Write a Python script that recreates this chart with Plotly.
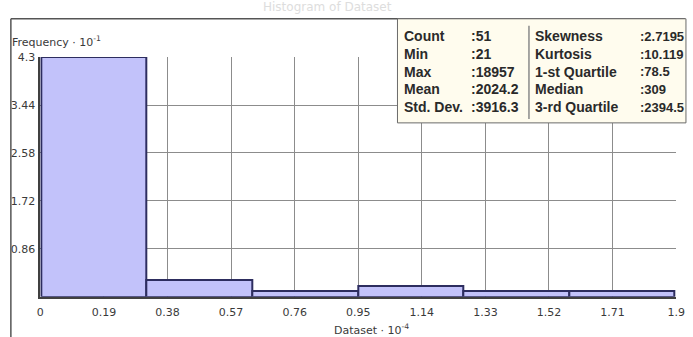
import plotly.graph_objects as go

# ---- data ----
bin_edges = [0.0021, 0.3177, 0.6333, 0.9489, 1.2645, 1.5801, 1.8957]   # Dataset · 10^-4
frequency = [4.3, 0.3, 0.1, 0.2, 0.1, 0.1]                          # Frequency · 10^-1
x_ticks = [0, 0.19, 0.38, 0.57, 0.76, 0.95, 1.14, 1.33, 1.52, 1.71, 1.9]
x_tick_labels = ["0", "0.19", "0.38", "0.57", "0.76", "0.95", "1.14", "1.33", "1.52", "1.71", "1.9"]
y_ticks = [0.86, 1.72, 2.58, 3.44, 4.3]
y_tick_labels = ["0.86", "1.72", "2.58", "3.44", "4.3"]
stats_left = [("Count", ":51"), ("Min", ":21"), ("Max", ":18957"), ("Mean", ":2024.2"), ("Std. Dev.", ":3916.3")]
stats_right = [("Skewness", ":2.7195"), ("Kurtosis", ":10.119"), ("1-st Quartile", ":78.5"),
               ("Median", ":309"), ("3-rd Quartile", ":2394.5")]

W, H = 693, 337
def px(x):
    return x / W
def py(y):
    return 1 - y / H

centers = [(a + b) / 2 for a, b in zip(bin_edges[:-1], bin_edges[1:])]
widths = [b - a for a, b in zip(bin_edges[:-1], bin_edges[1:])]

fig = go.Figure()
fig.add_trace(go.Bar(
    x=centers, y=frequency, width=widths,
    marker=dict(color="rgb(194,194,250)", line=dict(color="rgb(45,45,95)", width=2)),
    hoverinfo="skip",
))

tick_font = dict(family="DejaVu Sans", size=11, color="#3a3a3a")
grid_col = "#8c8c8c"

fig.update_layout(
    width=W, height=H,
    margin=dict(l=0, r=0, t=0, b=0),
    paper_bgcolor="white", plot_bgcolor="white",
    showlegend=False, bargap=0,
    xaxis=dict(domain=[px(37), px(685)], range=[0, 1.9], tickvals=x_ticks, ticktext=x_tick_labels,
               showgrid=True, gridcolor=grid_col, gridwidth=1, zeroline=False,
               showline=True, linecolor="#404040", linewidth=1.5,
               ticks="", ticklabelstandoff=4, ticklabeloverflow="allow",
               tickfont=tick_font, fixedrange=True),
    yaxis=dict(domain=[py(296), py(52)], range=[0, 4.3], tickvals=y_ticks, ticktext=y_tick_labels,
               showgrid=True, gridcolor=grid_col, gridwidth=1, zeroline=False,
               showline=True, linecolor="#404040", linewidth=1.5,
               ticks="", ticklabelstandoff=1, ticklabeloverflow="allow",
               tickfont=tick_font, fixedrange=True),
)

shapes = [
    dict(type="line", xref="paper", yref="paper", x0=px(7), x1=px(694), y0=py(13), y1=py(13),
         line=dict(color="#555555", width=1.5)),
    dict(type="line", xref="paper", yref="paper", x0=px(7), x1=px(7), y0=py(13), y1=py(338),
         line=dict(color="#555555", width=1.5)),
    dict(type="rect", xref="paper", yref="paper", x0=px(401), x1=px(695), y0=py(119), y1=py(13),
         fillcolor="#fffcee", line=dict(color="#6a6a6a", width=1)),
    dict(type="line", xref="paper", yref="paper", x0=px(535), x1=px(535), y0=py(115), y1=py(20),
         line=dict(color="#8a8a8a", width=1.5)),
]
fig.update_layout(shapes=shapes)

ann = []
lab_font = dict(family="Liberation Sans", size=14, color="#2a2a2a")
val_font = dict(family="Liberation Sans", size=13, color="#2a2a2a")
row_y = [31, 49, 67, 85, 103]
for (lab, val), y in zip(stats_left, row_y):
    ann.append(dict(text="<b>%s</b>" % lab, x=px(406), y=py(y), xref="paper", yref="paper",
                    xanchor="left", yanchor="middle", showarrow=False, font=lab_font))
    ann.append(dict(text="<b>%s</b>" % val, x=px(474), y=py(y), xref="paper", yref="paper",
                    xanchor="left", yanchor="middle", showarrow=False, font=lab_font))
for (lab, val), y in zip(stats_right, row_y):
    ann.append(dict(text="<b>%s</b>" % lab, x=px(539), y=py(y), xref="paper", yref="paper",
                    xanchor="left", yanchor="middle", showarrow=False, font=lab_font))
    ann.append(dict(text="<b>%s</b>" % val, x=px(646), y=py(y), xref="paper", yref="paper",
                    xanchor="left", yanchor="middle", showarrow=False, font=val_font))

label_font = dict(family="DejaVu Sans", size=11, color="#3a3a3a")
ann.append(dict(text="Frequency · 10<sup>-1</sup>", x=px(6), y=py(36), xref="paper", yref="paper",
                xanchor="left", yanchor="middle", showarrow=False, font=label_font))
ann.append(dict(text="Dataset · 10<sup>-4</sup>", x=px(334), y=py(329), xref="paper", yref="paper",
                xanchor="left", yanchor="middle", showarrow=False, font=label_font))
ann.append(dict(text="Histogram of Dataset", x=px(330), y=py(1), xref="paper", yref="paper",
                xanchor="center", yanchor="middle", showarrow=False,
                font=dict(family="DejaVu Sans", size=12, color="#dddddd")))
fig.update_layout(annotations=ann)

fig.write_html("out.html")
